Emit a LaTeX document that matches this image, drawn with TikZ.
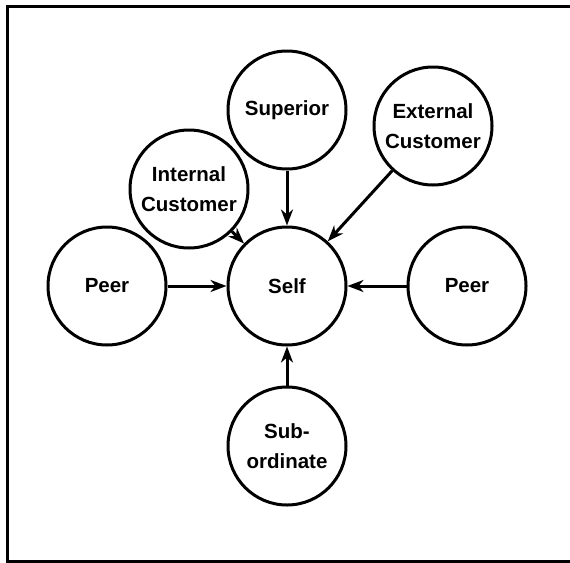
\documentclass[tikz,border=0pt]{standalone}
\usepackage{fontspec}
\setmainfont{Liberation Sans}
\usetikzlibrary{arrows.meta}
\begin{document}
\begin{tikzpicture}[x=1pt,y=-1pt,
  person/.style={circle,draw=black,line width=3pt,minimum size=118pt,inner sep=0pt,
    align=center,font=\fontsize{20.5}{30}\selectfont\bfseries},
  link/.style={line width=3pt,-{Stealth[length=16pt,width=12pt,inset=5pt]}}]
\useasboundingbox (0,0) rectangle (570,562);
\begin{scope}
\clip (0,0) rectangle (570,562);
\draw[line width=3pt] (640,6.5) -- (7.5,6.5) -- (7.5,561.5) -- (640,561.5);
\end{scope}
\node[person] (self) at (287,286) {Self};
\node[person] (sup) at (287,110) {Superior};
\node[person] (int) at (189,189) {Internal\\Customer};
\node[person] (ext) at (433,126) {External\\Customer};
\node[person] (peerl) at (107,286) {Peer};
\node[person] (peerr) at (467,286) {Peer};
\node[person] (sub) at (287,446) {Sub-\\ordinate};
\draw[link] (sup) -- (self);
\draw[link] (ext) -- (self);
\draw[link] (int) -- (self);
\draw[link] (peerl) -- (self);
\draw[link] (peerr) -- (self);
\draw[link] (sub) -- (self);
\end{tikzpicture}
\end{document}
